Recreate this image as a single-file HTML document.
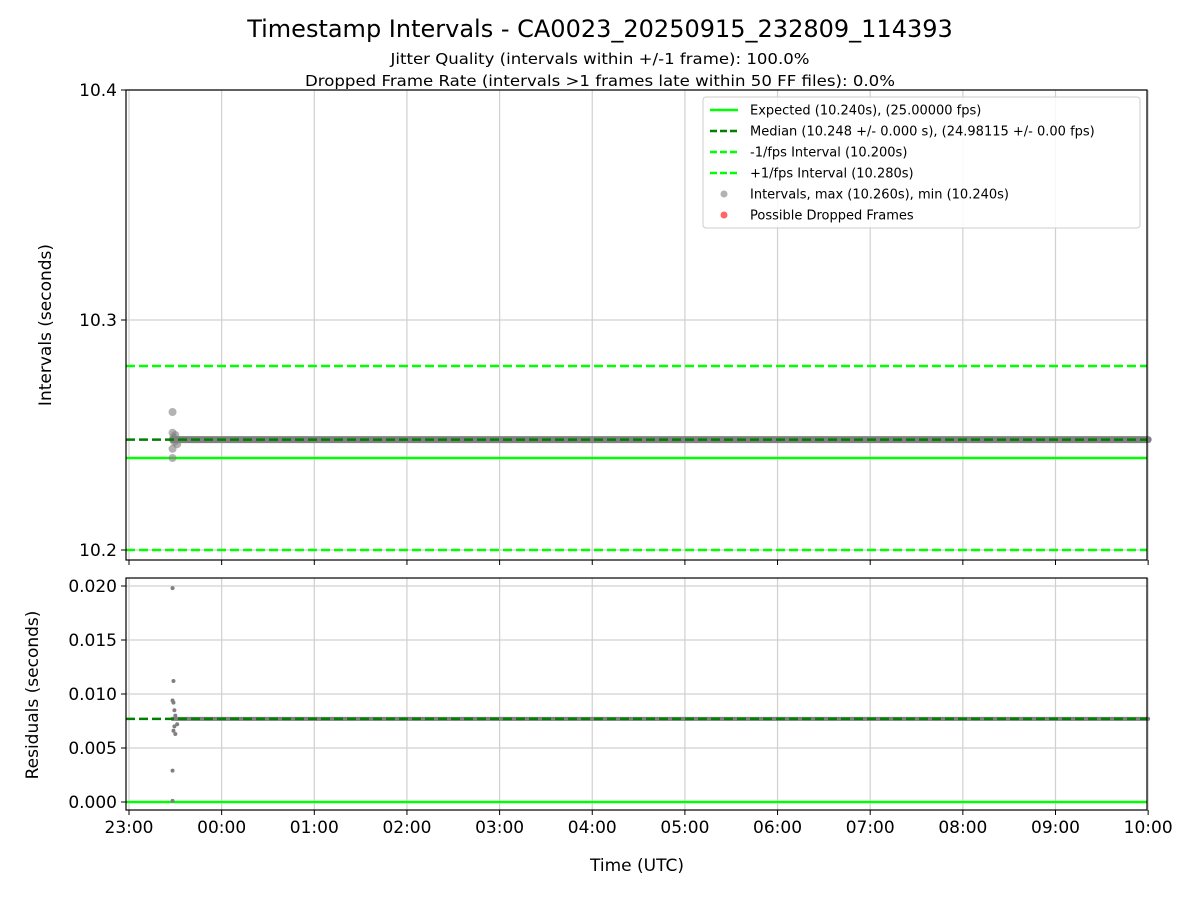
<!DOCTYPE html>
<html><head><meta charset="utf-8">
<style>
body{margin:0;background:#fff;font-family:"Liberation Sans","DejaVu Sans",sans-serif;}
svg text{font-family:"DejaVu Sans","Liberation Sans",sans-serif;}
</style></head>
<body>
<svg id="chart" width="1200" height="900" xmlns="http://www.w3.org/2000/svg">
<rect width="1200" height="900" fill="#fff"/>
<text x="600" y="37" font-size="24" text-anchor="middle">Timestamp Intervals - CA0023_20250915_232809_114393</text>
<text x="600" y="64" font-size="15.5" text-anchor="middle" textLength="419" lengthAdjust="spacingAndGlyphs">Jitter Quality (intervals within +/-1 frame): 100.0%</text>
<text x="600" y="86" font-size="15.5" text-anchor="middle" textLength="590" lengthAdjust="spacingAndGlyphs">Dropped Frame Rate (intervals &gt;1 frames late within 50 FF files): 0.0%</text>
<g id="gtop"></g>
<g id="gbot"></g>
</svg>
<script>
// data
const hourLabels=["23:00","00:00","01:00","02:00","03:00","04:00","05:00","06:00","07:00","08:00","09:00","10:00"];
const topTicks=[10.2,10.3,10.4];
const botTicks=[0.000,0.005,0.010,0.015,0.020];
const expected=10.240, median=10.248, minusFps=10.200, plusFps=10.280;
const residMedian=0.0077;
// hours since 23:00
const outlierTimes=[0.47,0.47,0.47,0.47,0.48,0.49,0.5,0.52];
const outlierVals=[10.260,10.251,10.244,10.240,10.249,10.247,10.250,10.246];
const bandTimes=[0.47,0.75,1,1.5,2,2.5,3,3.5,4,4.5,5,5.5,6,6.5,7,7.5,8,8.5,9,9.5,10,10.5,11];
const bandVals=[10.248,10.248,10.248,10.248,10.248,10.248,10.248,10.248,10.248,10.248,10.248,10.248,10.248,10.248,10.248,10.248,10.248,10.248,10.248,10.248,10.248,10.248,10.248];
const residTimes=[0.47,0.48,0.47,0.48,0.49,0.50,0.49,0.48,0.50,0.52,0.47,0.47];
const residVals=[0.0198,0.0112,0.0094,0.0092,0.0085,0.0080,0.0070,0.0066,0.0063,0.0072,0.0029,0.0001];
const residBandVals=[0.0077,0.0077,0.0077,0.0077,0.0077,0.0077,0.0077,0.0077,0.0077,0.0077,0.0077,0.0077,0.0077,0.0077,0.0077,0.0077,0.0077,0.0077,0.0077,0.0077,0.0077,0.0077,0.0077];

const NS="http://www.w3.org/2000/svg";
const L=126,R=1147;
const X=h=>129+h*92.65;
const YT=v=>550-(v-10.2)*2300;
const YB=v=>802-v*10800;
function mk(p,tag,a){const e=document.createElementNS(NS,tag);for(const k in a)e.setAttribute(k,a[k]);p.appendChild(e);return e;}
const gTop=document.getElementById('gtop'), gBot=document.getElementById('gbot');

function axes(g,t,b,ticks,Y,fmt,isBot){
  hourLabels.forEach((lb,i)=>{
    const l=mk(g,'line',{x1:X(i),x2:X(i),y1:t,y2:b,stroke:'#d0d0d0','stroke-width':1.2});
    
    
    const tk=mk(g,'line',{x1:X(i),x2:X(i),y1:b,y2:b+5,stroke:'#000','stroke-width':1});
    
    
    if(isBot){const tx=mk(g,'text',{x:X(i),y:b+23,'font-size':17,'text-anchor':'middle'});tx.textContent=lb;
      
      }
  });
  ticks.forEach(v=>{
    const l=mk(g,'line',{x1:L,x2:R,y1:Y(v),y2:Y(v),stroke:'#d0d0d0','stroke-width':1.2});
    
    
    const tk=mk(g,'line',{x1:L-5,x2:L,y1:Y(v),y2:Y(v),stroke:'#000','stroke-width':1});
    
    
    const tx=mk(g,'text',{x:L-9,y:Y(v)+6,'font-size':17,'text-anchor':'end'});tx.textContent=fmt(v);
    
    
  });
}
function hline(g,y,c,dash,name){const l=mk(g,'line',{x1:L,x2:R,y1:y,y2:y,stroke:c,'stroke-width':2.5});if(dash)l.setAttribute('stroke-dasharray',dash);
  
  }
function band(g,ts,vs,Y,w,name){const p=mk(g,'polyline',{points:ts.map((t,i)=>X(t)+','+Y(vs[i])).join(' '),fill:'none',stroke:'#808080','stroke-width':w,'stroke-linecap':'round'});
  
  }
function pts(g,ts,vs,Y,r,c,name){ts.forEach((t,i)=>{const e=mk(g,'circle',{cx:X(t),cy:Y(vs[i]),r:r,fill:c});
  
  });}

// top
axes(gTop,90,560,topTicks,YT,v=>v.toFixed(1),false);
hline(gTop,YT(expected),'#00ff00',null,'expected-line');
hline(gTop,YT(minusFps),'#00ff00','9,4','minus-fps-line');
hline(gTop,YT(plusFps),'#00ff00','9,4','plus-fps-line');
band(gTop,bandTimes,bandVals,YT,7,'interval-band');
pts(gTop,outlierTimes,outlierVals,YT,4,'rgba(128,128,128,0.6)','interval-point');
hline(gTop,YT(median),'#007f00','9,4','median-line');
let fr=mk(gTop,'rect',{x:L,y:90,width:R-L,height:470,fill:'none',stroke:'#000','stroke-width':1.2});


let yl=mk(gTop,'text',{x:0,y:0,'font-size':17,'text-anchor':'middle',transform:'translate(51,325) rotate(-90)'});yl.textContent='Intervals (seconds)';



// legend
const lg=mk(gTop,'g',{});


mk(lg,'rect',{x:703,y:97,width:437,height:131,rx:3,fill:'#fff','fill-opacity':0.85,stroke:'#ccc'});
const legItems=[["Expected (10.240s), (25.00000 fps)",'line','#00ff00',null],
["Median (10.248 +/- 0.000 s), (24.98115 +/- 0.00 fps)",'line','#007f00','7,3'],
["-1/fps Interval (10.200s)",'line','#00ff00','7,3'],
["+1/fps Interval (10.280s)",'line','#00ff00','7,3'],
["Intervals, max (10.260s), min (10.240s)",'dot','rgba(128,128,128,0.6)'],
["Possible Dropped Frames",'dot','rgba(255,0,0,0.6)']];
legItems.forEach((it,i)=>{const y=110+i*21;
  const e=mk(lg,'g',{});
  
  
  if(it[1]==='line'){const l=mk(e,'line',{x1:710,x2:738,y1:y,y2:y,stroke:it[2],'stroke-width':2.5});if(it[3])l.setAttribute('stroke-dasharray',it[3]);}
  else mk(e,'circle',{cx:724,cy:y,r:3.5,fill:it[2]});
  const t=mk(e,'text',{x:750,y:y+4.5,'font-size':13});t.textContent=it[0];});

// bottom
axes(gBot,578,810,botTicks,YB,v=>v.toFixed(3),true);
hline(gBot,YB(0),'#00ff00',null,'zero-residual-line');
band(gBot,bandTimes,residBandVals,YB,4,'residual-band');
pts(gBot,residTimes,residVals,YB,2,'#808080','residual-point');
hline(gBot,YB(residMedian),'#007f00','9,4','residual-median-line');
fr=mk(gBot,'rect',{x:L,y:578,width:R-L,height:232,fill:'none',stroke:'#000','stroke-width':1.2});


yl=mk(gBot,'text',{x:0,y:0,'font-size':17,'text-anchor':'middle',transform:'translate(38,695) rotate(-90)'});yl.textContent='Residuals (seconds)';


const xl=mk(gBot,'text',{x:637,y:871,'font-size':17,'text-anchor':'middle'});xl.textContent='Time (UTC)';


</script>
</body></html>
